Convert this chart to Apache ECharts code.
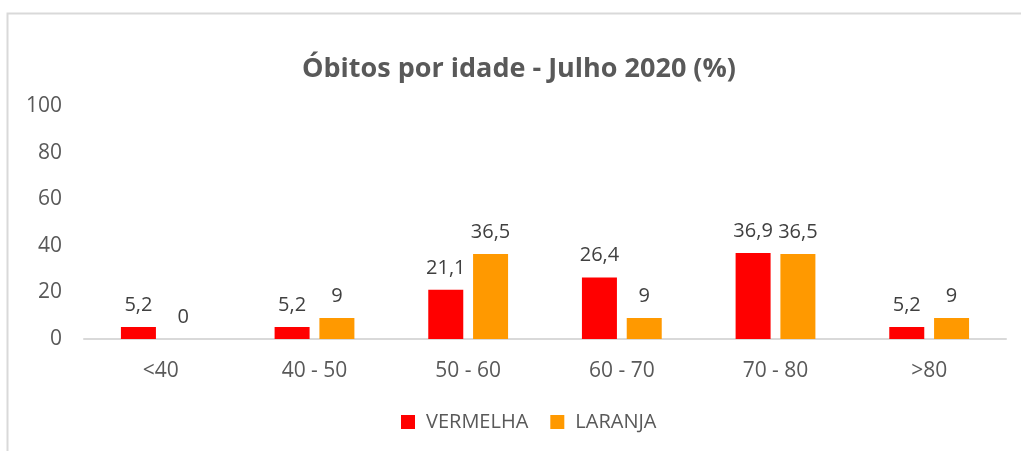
<!DOCTYPE html>
<html>
<head>
<meta charset="utf-8">
<script src="https://cdn.jsdelivr.net/npm/echarts@6/dist/echarts.min.js"></script>
<style>
html,body{margin:0;padding:0;background:#fff;}
#chart{width:1021px;height:451px;}
</style>
</head>
<body>
<div id="chart"></div>
<script>
var categorias = ["<40", "40 - 50", "50 - 60", "60 - 70", "70 - 80", ">80"];
var vermelha = [5.2, 5.2, 21.1, 26.4, 36.9, 5.2];
var laranja = [0, 9, 36.5, 9, 36.5, 9];
var yTicks = [0, 20, 40, 60, 80, 100];

var fonte = "Open Sans";
function rotulo(p){
	return String(p.value).replace(".", ",");
}

var option = {
	animation: false,
	backgroundColor: "#fff",
	title: {
		text: "Óbitos por idade - Julho 2020 (%)",
		left: 514,
		textAlign: "center",
		top: 51,
		textStyle: {fontFamily: fonte, fontWeight: "bold", fontSize: 27, color: "#595959"}
	},
	graphic: [{
		type: "rect",
		shape: {x: 7.5, y: 13.5, width: 1100, height: 500},
		style: {fill: "none", stroke: "#d9d9d9", lineWidth: 2}
	}],
	legend: {
		bottom: 14,
		left: 396,
		itemWidth: 14,
		itemHeight: 14,
		itemGap: 22,
		icon: "rect",
		textStyle: {fontFamily: fonte, fontSize: 20, color: "#595959", padding: [0, 0, 0, 6]},
		data: ["VERMELHA", "LARANJA"]
	},
	grid: {left: 84, right: 15, top: 106, bottom: 112, containLabel: false},
	xAxis: {
		type: "category",
		data: categorias,
		axisLine: {lineStyle: {color: "#d9d9d9", width: 2}},
		axisTick: {show: false},
		axisLabel: {fontFamily: fonte, fontSize: 21, color: "#595959", margin: 22}
	},
	yAxis: {
		type: "value",
		min: yTicks[0],
		max: yTicks[yTicks.length - 1],
		interval: 20,
		axisLine: {show: false},
		axisTick: {show: false},
		splitLine: {show: false},
		axisLabel: {fontFamily: fonte, fontSize: 21, color: "#595959", margin: 22}
	},
	series: [{
		name: "VERMELHA",
		type: "bar",
		data: vermelha,
		barWidth: 35,
		barGap: "28%",
		itemStyle: {color: "#ff0000"},
		label: {show: true, position: "top", distance: 12, formatter: rotulo,
			fontFamily: fonte, fontSize: 20, color: "#404040"}
	}, {
		name: "LARANJA",
		type: "bar",
		data: laranja,
		barWidth: 35,
		itemStyle: {color: "#ff9900"},
		label: {show: true, position: "top", distance: 12, formatter: rotulo,
			fontFamily: fonte, fontSize: 20, color: "#404040"}
	}]
};

echarts.init(document.getElementById("chart")).setOption(option);
</script>
</body>
</html>
